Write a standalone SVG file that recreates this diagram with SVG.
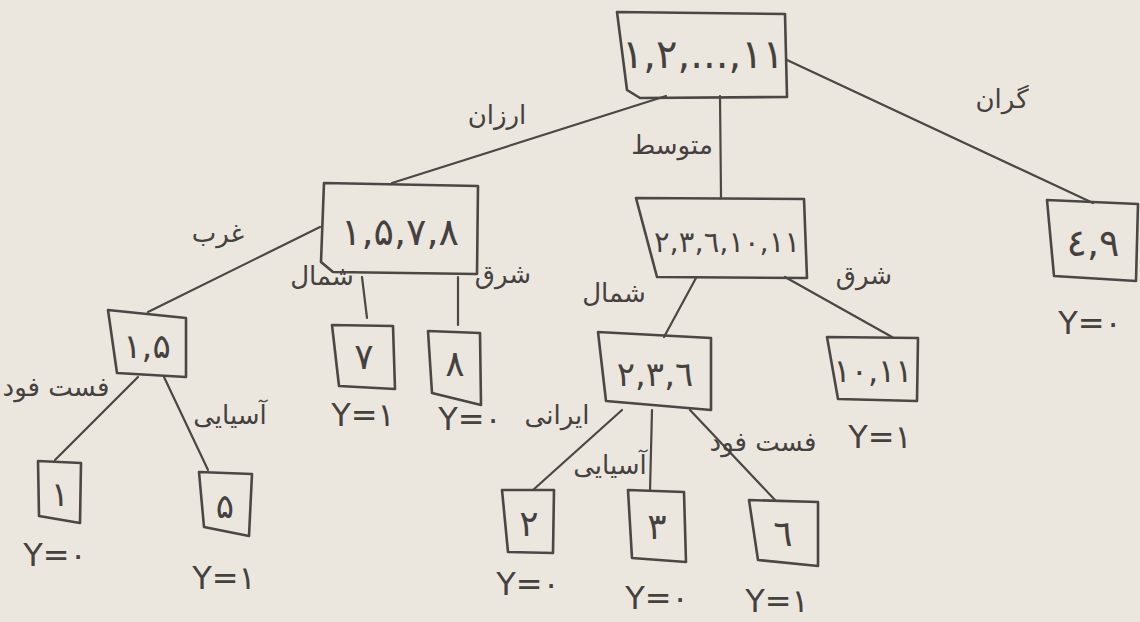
<svg xmlns="http://www.w3.org/2000/svg" width="1140" height="622" viewBox="0 0 1140 622">
<style>
.bg{fill:#ebe7df}
.box{fill:none;stroke:#4a4744;stroke-width:2.6;stroke-linejoin:round}
.edge{fill:none;stroke:#4a4744;stroke-width:2.2;stroke-linecap:round}
.num{font-family:"DejaVu Sans",sans-serif;fill:#44413e;text-anchor:middle;direction:ltr;unicode-bidi:bidi-override}
.lbl{font-family:"DejaVu Sans",sans-serif;fill:#44413e;font-size:26px;text-anchor:middle}
.y{font-family:"DejaVu Sans",sans-serif;fill:#44413e;font-size:32px;text-anchor:middle;direction:ltr;unicode-bidi:bidi-override}
</style>
<rect class="bg" x="0" y="0" width="1140" height="622"/>
<g id="connectors">
<path class="edge" d="M666 96 L392 183"/>
<path class="edge" d="M720 96 L721 197"/>
<path class="edge" d="M787 60 L1093 203"/>
<path class="edge" d="M320 227 L148 312"/>
<path class="edge" d="M362 277 L367 318"/>
<path class="edge" d="M458 277 L458 325"/>
<path class="edge" d="M696 278 L664 337"/>
<path class="edge" d="M785 277 L892 337"/>
<path class="edge" d="M138 377 L55 460"/>
<path class="edge" d="M164 377 L208 470"/>
<path class="edge" d="M622 410 L533 490"/>
<path class="edge" d="M652 410 L650 491"/>
<path class="edge" d="M690 410 L775 500"/>
<text class="lbl" x="497" y="124" font-size="30">ارزان</text>
<text class="lbl" x="672" y="154">متوسط</text>
<text class="lbl" x="1002" y="108" font-size="32">گران</text>
<text class="lbl" x="218" y="242" font-size="30">غرب</text>
<text class="lbl" x="322" y="285">شمال</text>
<text class="lbl" x="503" y="283">شرق</text>
<text class="lbl" x="614" y="302" font-size="28">شمال</text>
<text class="lbl" x="864" y="284" font-size="28">شرق</text>
<text class="lbl" x="56" y="396" font-size="19">فست فود</text>
<text class="lbl" x="230" y="424" font-size="24">آسیایی</text>
<text class="lbl" x="557" y="424" font-size="22">ایرانی</text>
<text class="lbl" x="610" y="474" font-size="22">آسیایی</text>
<text class="lbl" x="763" y="451" font-size="22">فست فود</text>
</g>
<g id="n-root">
<path class="box" d="M617 12 L785 14 L787 97 L640 98 L627 90 Z"/>
<text class="num" x="703" y="68" font-size="40">۱,۲,...,۱۱</text>
</g>
<g id="n-1578">
<path class="box" d="M324 183 L478 186 L477 274 L333 272 L321 262 Z"/>
<text class="num" x="400" y="245" font-size="38">۱,۵,۷,۸</text>
</g>
<g id="n-2361011">
<path class="box" d="M636 198 L804 199 L807 278 L657 277 Z"/>
<text class="num" x="727" y="252" font-size="29" letter-spacing="-2">۲,۳,٦,۱۰,۱۱</text>
</g>
<g id="n-49">
<path class="box" d="M1047 200 L1138 204 L1136 281 L1054 276 Z"/>
<text class="num" x="1093" y="256" font-size="38">٤,۹</text>
<text class="y" x="1090" y="334">Y=۰</text>
</g>
<g id="n-15">
<path class="box" d="M108 310 L186 318 L186 377 L117 373 Z"/>
<text class="num" x="147" y="358" font-size="34">۱,۵</text>
</g>
<g id="n-7">
<path class="box" d="M332 325 L393 326 L395 389 L339 386 Z"/>
<text class="num" x="364" y="369" font-size="36">۷</text>
<text class="y" x="363" y="426">Y=۱</text>
</g>
<g id="n-8">
<path class="box" d="M428 331 L480 333 L481 405 L432 393 Z"/>
<text class="num" x="455" y="376" font-size="36">۸</text>
<text class="y" x="470" y="430">Y=۰</text>
</g>
<g id="n-236">
<path class="box" d="M598 332 L711 338 L711 410 L606 401 Z"/>
<text class="num" x="655" y="386" font-size="34">۲,۳,٦</text>
</g>
<g id="n-1011">
<path class="box" d="M827 337 L918 338 L917 401 L838 399 Z"/>
<text class="num" x="873" y="382" font-size="32">۱۰,۱۱</text>
<text class="y" x="880" y="448">Y=۱</text>
</g>
<g id="n-1">
<path class="box" d="M38 461 L81 463 L80 523 L39 516 Z"/>
<text class="num" x="60" y="506" font-size="34">۱</text>
<text class="y" x="55" y="566">Y=۰</text>
</g>
<g id="n-5">
<path class="box" d="M199 472 L252 474 L249 536 L204 527 Z"/>
<text class="num" x="225" y="518" font-size="34">۵</text>
<text class="y" x="224" y="589">Y=۱</text>
</g>
<g id="n-2">
<path class="box" d="M502 490 L554 490 L553 553 L508 552 Z"/>
<text class="num" x="529" y="536" font-size="36">۲</text>
<text class="y" x="528" y="595">Y=۰</text>
</g>
<g id="n-3">
<path class="box" d="M628 490 L684 492 L686 562 L632 558 Z"/>
<text class="num" x="657" y="539" font-size="36">۳</text>
<text class="y" x="657" y="609">Y=۰</text>
</g>
<g id="n-6">
<path class="box" d="M749 500 L818 502 L818 566 L758 560 Z"/>
<text class="num" x="783" y="546" font-size="36">٦</text>
<text class="y" x="777" y="612">Y=۱</text>
</g>
</svg>
